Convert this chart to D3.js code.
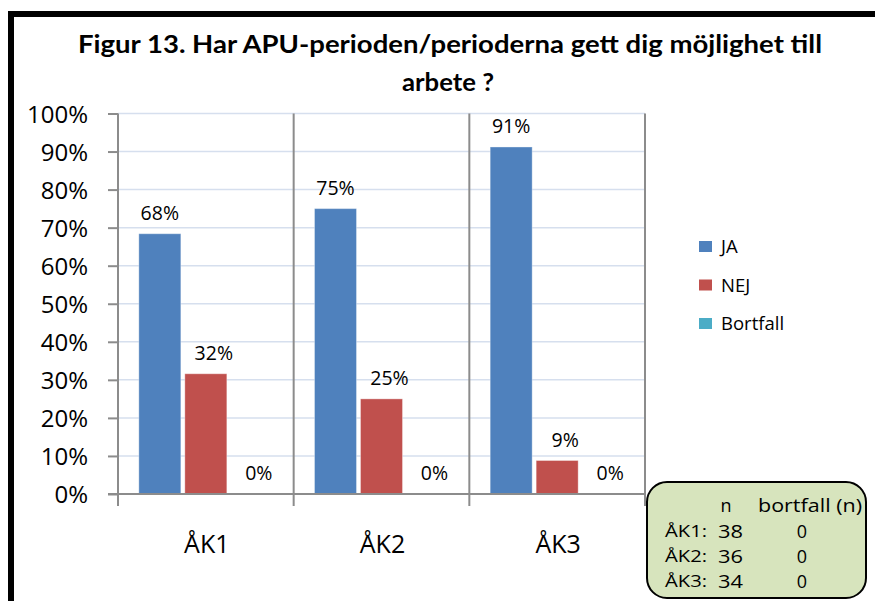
<!DOCTYPE html>
<html>
<head>
<meta charset="utf-8">
<script src="https://cdn.jsdelivr.net/npm/d3@7"></script>
<style>
html,body{margin:0;padding:0;background:#fff;}
svg{display:block;}
text{font-family:"Open Sans",sans-serif;fill:#000;}
</style>
</head>
<body>
<svg id="chart" width="875" height="601"></svg>
<script>
// ---- data ----
const titleLines = ["Figur 13.  Har APU-perioden/perioderna gett dig möjlighet till", "arbete ?"];
const categories = ["ÅK1", "ÅK2", "ÅK3"];
const seriesNames = ["JA", "NEJ", "Bortfall"];
const seriesColors = ["#4f81bd", "#c0504d", "#4bacc6"];
const jaValues = [0.684, 0.75, 0.912];
const nejValues = [0.316, 0.25, 0.088];
const bortfallValues = [0, 0, 0];
const yTicks = [0, 0.1, 0.2, 0.3, 0.4, 0.5, 0.6, 0.7, 0.8, 0.9, 1.0];
const boxHeader = ["n", "bortfall (n)"];
const boxRows = ["ÅK1:", "ÅK2:", "ÅK3:"];
const boxN = [38, 36, 34];
const boxBortfall = [0, 0, 0];

const seriesValues = [jaValues, nejValues, bortfallValues];
const labelDx = [0, 8, 7];

const svg = d3.select("#chart");

// outer frame
svg.append("rect").attr("x", 11).attr("y", 14).attr("width", 900).attr("height", 700)
  .attr("fill", "none").attr("stroke", "#000").attr("stroke-width", 6);

// title
const tl = [{t: titleLines[0], y: 53, len: 744, cx: 450}, {t: titleLines[1], y: 91, len: 92, cx: 448}];
svg.selectAll("text.title").data(tl).join("text").attr("class", "title")
  .attr("x", d => d.cx).attr("y", d => d.y).attr("text-anchor", "middle")
  .attr("textLength", d => d.len).attr("lengthAdjust", "spacingAndGlyphs")
  .style("font-family", "Lato, 'Open Sans', sans-serif").style("font-weight", "bold").style("font-size", "25px")
  .text(d => d.t);

// scales
const plotL = 118, plotR = 645, plotT = 113.5, plotB = 494;
const x0 = d3.scaleBand().domain(categories).range([plotL, plotR]).padding(0);
const x1 = d3.scaleBand().domain(seriesNames).range([0, x0.bandwidth()]).paddingInner(0.087).paddingOuter(0.453);
const y = d3.scaleLinear().domain([0, 1]).range([plotB, plotT]);

// gridlines
svg.append("g").selectAll("line").data(yTicks.filter(d => d > 0)).join("line")
  .attr("x1", plotL).attr("x2", plotR).attr("y1", d => y(d)).attr("y2", d => y(d))
  .attr("stroke", "#d6dfee").attr("stroke-width", 1.5);

// category separators (with ticks below axis)
const bounds = categories.map(c => x0(c)).concat([plotR]);
svg.append("g").selectAll("line").data(bounds.slice(1)).join("line")
  .attr("x1", d => d).attr("x2", d => d).attr("y1", plotT).attr("y2", plotB + 12)
  .attr("stroke", "#8c8c8c").attr("stroke-width", 2);

// bars
const barG = svg.append("g");
categories.forEach((c, ci) => {
  seriesNames.forEach((s, si) => {
    const v = seriesValues[si][ci];
    if (v > 0) {
      barG.append("rect")
        .attr("x", x0(c) + x1(s)).attr("width", x1.bandwidth())
        .attr("y", y(v)).attr("height", y(0) - y(v))
        .attr("fill", seriesColors[si]).attr("stroke", "rgba(255,255,255,0.35)").attr("stroke-width", 1);
    }
    barG.append("text")
      .attr("x", x0(c) + x1(s) + x1.bandwidth() / 2 + labelDx[si])
      .attr("y", y(v) - 14).attr("text-anchor", "middle")
      .style("font-size", "19.5px")
      .text(Math.round(v * 100) + "%");
  });
});

// y axis
const yAxis = d3.axisLeft(y).tickValues(yTicks).tickFormat(d3.format(".0%")).tickSize(10).tickPadding(20);
const ya = svg.append("g").attr("transform", `translate(${plotL},0)`).call(yAxis);
ya.select(".domain").remove();
ya.selectAll(".tick line").attr("stroke", "#8c8c8c").attr("stroke-width", 2);
ya.selectAll(".tick text").style("font-family", "'Open Sans', sans-serif").style("font-size", "24px").attr("fill", "#000").attr("dy", "0.36em");
svg.append("line").attr("x1", plotL).attr("x2", plotL).attr("y1", plotT).attr("y2", plotB + 12)
  .attr("stroke", "#8c8c8c").attr("stroke-width", 2);

// x axis line
svg.append("line").attr("x1", plotL - 10).attr("x2", plotR).attr("y1", plotB).attr("y2", plotB)
  .attr("stroke", "#8c8c8c").attr("stroke-width", 2);

// category labels
svg.append("g").selectAll("text").data(categories).join("text")
  .attr("x", d => x0(d) + x0.bandwidth() / 2 + 1).attr("y", 553).attr("text-anchor", "middle")
  .style("font-size", "25px").text(d => d);

// legend
const lg = svg.append("g").attr("transform", "translate(699,0)");
seriesNames.forEach((s, i) => {
  const yy = 253 + i * 38.5;
  lg.append("rect").attr("x", 0).attr("y", yy - 12).attr("width", 13).attr("height", 11).attr("fill", seriesColors[i]);
  lg.append("text").attr("x", 22).attr("y", yy).style("font-size", "18.5px").text(s);
});

// info box
const bx = svg.append("g");
bx.append("rect").attr("x", 647).attr("y", 482).attr("width", 219).attr("height", 116).attr("rx", 20).attr("ry", 20)
  .attr("fill", "#d7e4bd").attr("stroke", "#000").attr("stroke-width", 2);
bx.append("text").attr("x", 726).attr("y", 512).attr("text-anchor", "middle").style("font-size", "18px").text(boxHeader[0]);
bx.append("text").attr("x", 758).attr("y", 512).attr("textLength", 104).attr("lengthAdjust", "spacingAndGlyphs").style("font-size", "18px").text(boxHeader[1]);
boxRows.forEach((r, i) => {
  const yy = 538 + i * 25;
  bx.append("text").attr("x", 665).attr("y", yy - 1).attr("textLength", 42).attr("lengthAdjust", "spacingAndGlyphs").style("font-size", "16px").text(r);
  bx.append("text").attr("x", 718).attr("y", yy).attr("textLength", 25).attr("lengthAdjust", "spacingAndGlyphs").style("font-size", "18px").text(boxN[i]);
  bx.append("text").attr("x", 802).attr("y", yy).attr("text-anchor", "middle").style("font-size", "18px").text(boxBortfall[i]);
});
</script>
</body>
</html>
